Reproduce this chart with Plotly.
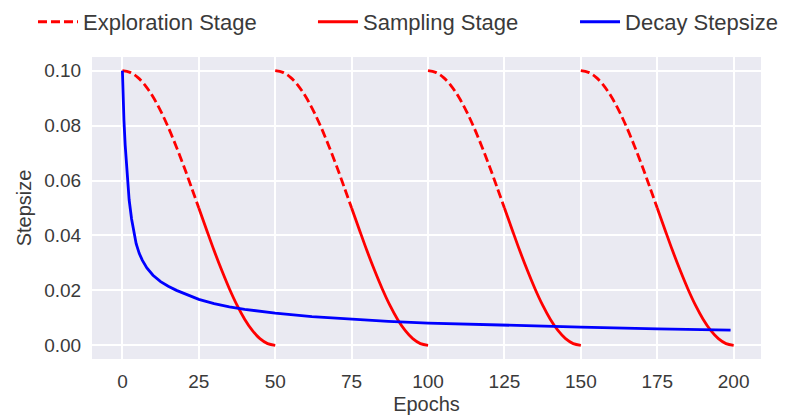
import plotly.graph_objects as go

# ---- data ----
# one cyclical cosine cycle (offset within cycle -> stepsize)
cycle_offsets = [0, 2.5, 5, 7.5, 10, 12.5, 15, 17.5, 20, 22.5, 25,
                 27.5, 30, 32.5, 35, 37.5, 40, 42.5, 45, 47.5, 50]
cycle_stepsize = [0.1, 0.0994, 0.0976, 0.0946, 0.0905, 0.0854, 0.0794, 0.0727, 0.0655, 0.0578, 0.05,
                  0.0422, 0.0345, 0.0273, 0.0206, 0.0146, 0.0095, 0.0054, 0.0024, 0.0006, 0.0]
cycle_starts = [0, 50, 100, 150]
stage_split = 25  # exploration for first half, sampling for second half

decay_epochs = [0, 0.2, 0.5, 0.9, 1.5, 2.2, 3, 3.7, 4.5, 5.5, 6.5, 8, 10, 12.5, 15, 17.7,
                21, 25, 30, 35, 40, 50, 62, 75, 87, 100, 125, 150, 175, 199]
decay_stepsize = [0.1, 0.09, 0.082, 0.073, 0.062, 0.053, 0.046, 0.041, 0.037, 0.0335, 0.031,
                  0.0282, 0.0255, 0.0232, 0.0215, 0.02, 0.0184, 0.0167, 0.0152, 0.014, 0.0131,
                  0.0117, 0.0104, 0.0094, 0.0087, 0.0081, 0.0073, 0.0066, 0.006, 0.0055]

x_ticks = [0, 25, 50, 75, 100, 125, 150, 175, 200]
y_ticks = [0.0, 0.02, 0.04, 0.06, 0.08, 0.10]

# ---- build segments ----
ex_x, ex_y, sa_x, sa_y = [], [], [], []
for s in cycle_starts:
    for o, v in zip(cycle_offsets, cycle_stepsize):
        if o <= stage_split:
            ex_x.append(s + o); ex_y.append(v)
        if o >= stage_split:
            sa_x.append(s + o); sa_y.append(v)
    ex_x.append(None); ex_y.append(None)
    sa_x.append(None); sa_y.append(None)

FONT = "Liberation Sans, Arial, sans-serif"
TXT = "#3a3a3a"

fig = go.Figure()
fig.add_trace(go.Scatter(x=ex_x, y=ex_y, mode="lines", name="Exploration Stage",
                         line=dict(color="#ff0000", width=2.8, dash="9px,4px", shape="spline"),
                         legend="legend"))
fig.add_trace(go.Scatter(x=sa_x, y=sa_y, mode="lines", name="Sampling Stage",
                         line=dict(color="#ff0000", width=2.8, shape="spline"),
                         legend="legend2"))
fig.add_trace(go.Scatter(x=decay_epochs, y=decay_stepsize, mode="lines", name="Decay Stepsize",
                         line=dict(color="#0000ff", width=2.8),
                         legend="legend3"))

leg_common = dict(orientation="h", yanchor="middle", y=1.116, xanchor="left", itemwidth=40,
                  bgcolor="rgba(0,0,0,0)", font=dict(family=FONT, size=22, color=TXT))

fig.update_layout(
    width=795, height=419,
    margin=dict(l=92, r=34, t=57, b=60, autoexpand=False),
    paper_bgcolor="white", plot_bgcolor="#EAEAF2",
    font=dict(family=FONT, color=TXT),
    showlegend=True,
    legend=dict(x=-0.0882, **leg_common),
    legend2=dict(x=0.3303, **leg_common),
    legend3=dict(x=0.722, **leg_common),
    xaxis=dict(range=[-9.95, 208.95], tickvals=x_ticks, ticktext=[str(t) for t in x_ticks],
               showgrid=True, gridcolor="white", gridwidth=1.5, zeroline=False,
               showline=False, ticks="outside", ticklen=5, tickcolor="rgba(0,0,0,0)",
               tickfont=dict(size=19, family=FONT, color=TXT),
               title=dict(text="Epochs", font=dict(size=20, family=FONT, color=TXT), standoff=6)),
    yaxis=dict(range=[-0.005, 0.105], tickvals=y_ticks, ticktext=[f"{t:.2f}" for t in y_ticks],
               showgrid=True, gridcolor="white", gridwidth=1.5, zeroline=False,
               showline=False, ticks="outside", ticklen=6, tickcolor="rgba(0,0,0,0)",
               tickfont=dict(size=19, family=FONT, color=TXT),
               title=dict(text="Stepsize", font=dict(size=20, family=FONT, color=TXT), standoff=7)),
)

fig.write_html("out.html", config={"displayModeBar": False},
               post_script="document.body.style.margin='0';")
